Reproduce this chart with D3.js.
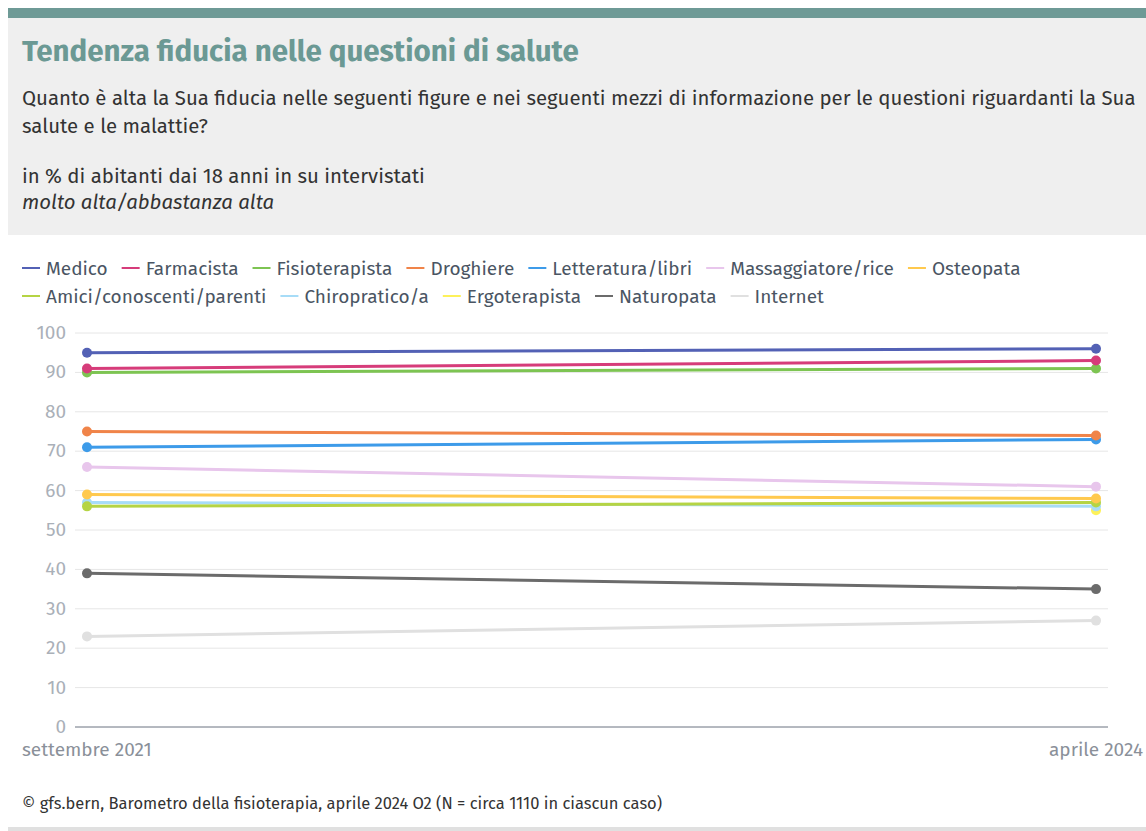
<!DOCTYPE html>
<html>
<head>
<meta charset="utf-8">
<script src="https://cdn.jsdelivr.net/npm/d3@7"></script>
<style>
  body { margin: 0; background: #fff; font-family: "Fira Sans", Lato, sans-serif; }
  svg text { font-family: "Fira Sans", Lato, sans-serif; }
</style>
</head>
<body>
<div id="chart"></div>
<script>
var periods = ["settembre 2021", "aprile 2024"];
var series = ["Medico", "Farmacista", "Fisioterapista", "Droghiere", "Letteratura/libri",
              "Massaggiatore/rice", "Osteopata", "Amici/conoscenti/parenti", "Chiropratico/a",
              "Ergoterapista", "Naturopata", "Internet"];
var colors = ["#5361b5", "#d63c7a", "#7dc452", "#f08449", "#3d9be9",
              "#e8c6ec", "#ffc94e", "#b5d444", "#a7dcf7",
              "#fdf15a", "#6b6b6b", "#e0e0e0"];
var values2021 = [95, 91, 90, 75, 71, 66, 59, 56, 57, null, 39, 23];
var values2024 = [96, 93, 91, 74, 73, 61, 58, 57, 56, 55, 35, 27];
var yTicks = [0, 10, 20, 30, 40, 50, 60, 70, 80, 90, 100];

var width = 1146, height = 831;
var svg = d3.select("#chart").append("svg")
    .attr("width", width)
    .attr("height", height);

// header
svg.append("rect").attr("x", 8).attr("y", 8).attr("width", width - 8).attr("height", 10).attr("fill", "#6e9a96");
svg.append("rect").attr("x", 8).attr("y", 18).attr("width", width - 8).attr("height", 217).attr("fill", "#efefef");
svg.append("text").attr("x", 22).attr("y", 61)
    .style("font-size", "29.5px").style("font-weight", "bold").attr("fill", "#6b9994")
    .text("Tendenza fiducia nelle questioni di salute");
var sub = ["Quanto è alta la Sua fiducia nelle seguenti figure e nei seguenti mezzi di informazione per le questioni riguardanti la Sua",
           "salute e le malattie?"];
sub.forEach(function(t, i) {
  svg.append("text").attr("x", 22).attr("y", 105 + i * 28)
     .style("font-size", "20.4px").attr("fill", "#333").text(t);
});
svg.append("text").attr("x", 22).attr("y", 183).style("font-size", "20.4px").attr("fill", "#333")
   .text("in % di abitanti dai 18 anni in su intervistati");
svg.append("text").attr("x", 22).attr("y", 209).style("font-size", "20.4px").style("font-style", "italic")
   .attr("fill", "#333").text("molto alta/abbastanza alta");

// legend
var legendRows = [series.slice(0, 7), series.slice(7)];
legendRows.forEach(function(row, r) {
  var x = 22;
  row.forEach(function(name) {
    var i = series.indexOf(name);
    var g = svg.append("g").attr("transform", "translate(" + x + "," + (268 + r * 28) + ")");
    g.append("line").attr("x1", 0).attr("x2", 18).attr("y1", 0).attr("y2", 0)
      .attr("stroke", colors[i]).attr("stroke-width", 2);
    var t = g.append("text").attr("x", 24).attr("y", 6.5).style("font-size", "19px")
      .attr("fill", "#4a5563").text(name);
    x += 24 + t.node().getComputedTextLength() + 14;
  });
});

// chart
var x = d3.scalePoint().domain(periods).range([87, 1096]);
var y = d3.scaleLinear().domain([0, 100]).range([727, 333]);

svg.append("g").selectAll("line").data(yTicks.slice(1)).enter().append("line")
   .attr("x1", 75).attr("x2", 1108)
   .attr("y1", function(d) { return y(d); }).attr("y2", function(d) { return y(d); })
   .attr("stroke", "#e6e6e6").attr("stroke-width", 1);

svg.append("line").attr("x1", 75).attr("x2", 1108).attr("y1", y(0)).attr("y2", y(0))
   .attr("stroke", "#6b7280").attr("stroke-width", 1);

svg.append("g").selectAll("text").data(yTicks).enter().append("text")
   .attr("x", 66).attr("y", function(d) { return y(d) + 6; })
   .style("text-anchor", "end").style("font-size", "19px").attr("fill", "#aab0b8")
   .text(function(d) { return d; });

svg.append("text").attr("x", 22).attr("y", 756).style("font-size", "19px").attr("fill", "#8a9099")
   .text(periods[0]);
svg.append("text").attr("x", 1143).attr("y", 756).style("text-anchor", "end").style("font-size", "19px")
   .attr("fill", "#8a9099").text(periods[1]);

var line = d3.line()
    .defined(function(d) { return d.v !== null; })
    .x(function(d) { return x(d.p); })
    .y(function(d) { return y(d.v); });

var data = series.map(function(name, i) {
  return { name: name, color: colors[i],
           pts: [{ p: periods[0], v: values2021[i] }, { p: periods[1], v: values2024[i] }] };
});

// draw from the bottom of the list upward so top series sit above
var order = data.slice().reverse();
var sg = svg.append("g").selectAll("g").data(order).enter().append("g");
sg.append("path")
  .attr("d", function(d) { return line(d.pts); })
  .attr("fill", "none").attr("stroke", function(d) { return d.color; }).attr("stroke-width", 3);
sg.selectAll("circle").data(function(d) {
    return d.pts.filter(function(p) { return p.v !== null; }).map(function(p) { return { p: p.p, v: p.v, c: d.color }; });
  }).enter().append("circle")
  .attr("cx", function(d) { return x(d.p); })
  .attr("cy", function(d) { return y(d.v); })
  .attr("r", 5)
  .attr("fill", function(d) { return d.c; });

// footer
svg.append("text").attr("x", 22).attr("y", 809).style("font-size", "16.5px").attr("fill", "#333")
   .text("© gfs.bern, Barometro della fisioterapia, aprile 2024 O2 (N = circa 1110 in ciascun caso)");
svg.append("rect").attr("x", 8).attr("y", 827).attr("width", width - 8).attr("height", 4).attr("fill", "#e0e0e0");
</script>
</body>
</html>
